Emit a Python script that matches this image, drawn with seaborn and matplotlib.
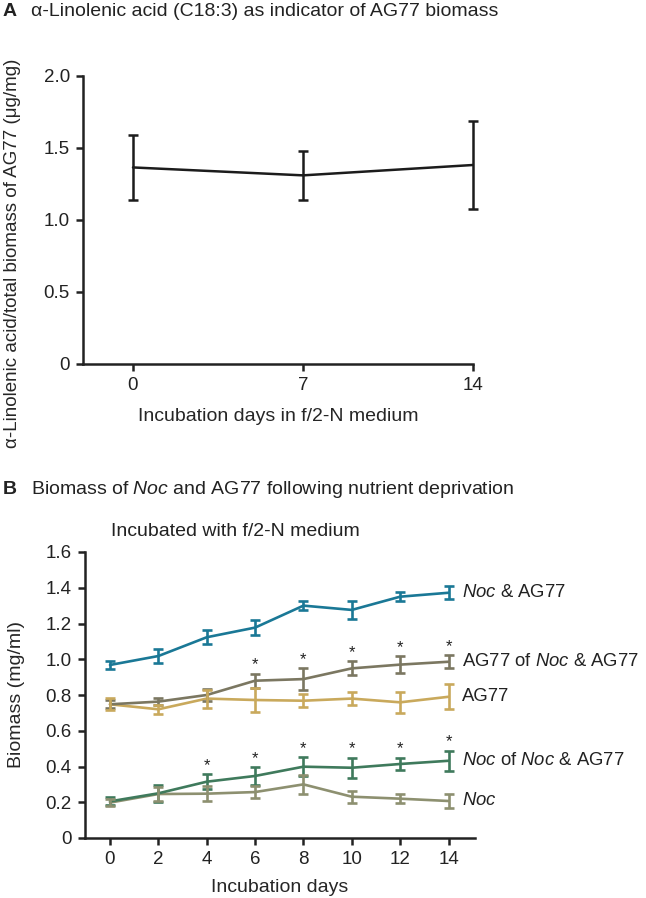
import numpy as np
import pandas as pd
import matplotlib
matplotlib.use("Agg")
import matplotlib.pyplot as plt
import seaborn as sns

# Panel A: alpha-linolenic acid / AG77 biomass
days_a = [0, 7, 14]
ala_mean = [1.365, 1.31, 1.382]
ala_err = [0.225, 0.168, 0.305]

# Panel B: biomass (mg/ml) over incubation days
days_b = [0, 2, 4, 6, 8, 10, 12, 14]
coculture = [0.968, 1.018, 1.123, 1.177, 1.300, 1.276, 1.350, 1.372]
coculture_err = [0.024, 0.037, 0.040, 0.040, 0.027, 0.051, 0.024, 0.036]
ag77_in_co = [0.748, 0.763, 0.800, 0.880, 0.889, 0.949, 0.970, 0.986]
ag77_in_co_err = [0.023, 0.019, 0.035, 0.040, 0.060, 0.039, 0.046, 0.035]
ag77_alone = [0.748, 0.720, 0.780, 0.772, 0.768, 0.780, 0.759, 0.790]
ag77_alone_err = [0.033, 0.025, 0.050, 0.068, 0.035, 0.037, 0.060, 0.069]
noc_in_co = [0.205, 0.250, 0.315, 0.347, 0.399, 0.393, 0.414, 0.432]
noc_in_co_err = [0.023, 0.048, 0.042, 0.048, 0.053, 0.056, 0.035, 0.056]
noc_alone = [0.198, 0.246, 0.248, 0.257, 0.300, 0.231, 0.220, 0.207]
noc_alone_err = [0.020, 0.038, 0.042, 0.033, 0.053, 0.033, 0.026, 0.040]

series_names = ["Noc & AG77", "AG77 of Noc & AG77", "AG77", "Noc of Noc & AG77", "Noc"]
series_labels = [r"$\mathit{Noc}$ & AG77", r"AG77 of $\mathit{Noc}$ & AG77", "AG77",
                 r"$\mathit{Noc}$ of $\mathit{Noc}$ & AG77", r"$\mathit{Noc}$"]
series_colors = ["#1a7896", "#7b7761", "#c9a95c", "#3f7a5c", "#8d9070"]
star_days = {"AG77 of Noc & AG77": [6, 8, 10, 12, 14],
             "Noc of Noc & AG77": [4, 6, 8, 10, 12, 14]}

sns.set_style("ticks")
plt.rcParams["font.family"] = ["Liberation Sans", "DejaVu Sans"]
plt.rcParams["mathtext.fontset"] = "custom"
plt.rcParams["mathtext.rm"] = "Liberation Sans"
plt.rcParams["mathtext.it"] = "Liberation Sans:italic"
plt.rcParams["axes.linewidth"] = 1.8
plt.rcParams["xtick.major.width"] = 1.8
plt.rcParams["ytick.major.width"] = 1.8
plt.rcParams["xtick.major.size"] = 5
plt.rcParams["ytick.major.size"] = 5
plt.rcParams["text.color"] = "#222222"
plt.rcParams["xtick.color"] = "#222222"
plt.rcParams["ytick.color"] = "#222222"
plt.rcParams["axes.edgecolor"] = "#222222"

W, H = 646, 898
FS = 14
TICK_FS = 13.5
fig = plt.figure(figsize=(W / 100, H / 100), dpi=100)

# ---------------- Panel A ----------------
axA = fig.add_axes([83 / W, 1 - 364 / H, (473 - 83) / W, (364 - 76) / H])
df_a = pd.DataFrame({"day": days_a, "ala": ala_mean})
sns.lineplot(data=df_a, x="day", y="ala", color="#1c1c1c", lw=1.8, ax=axA)
eb = axA.errorbar(days_a, ala_mean, yerr=ala_err, fmt="none", ecolor="#1c1c1c",
                  elinewidth=1.8, capsize=3.5, capthick=1.8)
for art in eb.get_children():
    art.set_clip_on(False)
axA.set_xlim(-50 / 24.29, 14)
axA.set_ylim(0, 2.0)
axA.set_xticks(days_a)
axA.set_yticks([0, 0.5, 1.0, 1.5, 2.0])
axA.set_yticklabels(["0", "0.5", "1.0", "1.5", "2.0"])
axA.tick_params(labelsize=TICK_FS, pad=4.5)
axA.set_xlabel("Incubation days in f/2-N medium", fontsize=FS, labelpad=10)
axA.set_ylabel("α-Linolenic acid/total biomass of AG77 (μg/mg)", fontsize=13.5)
axA.yaxis.set_label_coords((21 - 83) / 390, (364 - 253) / 288)
sns.despine(ax=axA)

fig.text(3 / W, 1 - 11 / H, "A", fontsize=FS, fontweight="bold", va="center", ha="left")
fig.text(31 / W, 1 - 11 / H, "α-Linolenic acid (C18:3) as indicator of AG77 biomass",
         fontsize=FS, va="center", ha="left")

# ---------------- Panel B ----------------
axB = fig.add_axes([85 / W, 1 - 838 / H, (475 - 85) / W, (838 - 552) / H])
values = [coculture, ag77_in_co, ag77_alone, noc_in_co, noc_alone]
errors = [coculture_err, ag77_in_co_err, ag77_alone_err, noc_in_co_err, noc_alone_err]
rows = []
for name, vals in zip(series_names, values):
    for d, v in zip(days_b, vals):
        rows.append({"day": d, "biomass": v, "series": name})
df_b = pd.DataFrame(rows)
palette = dict(zip(series_names, series_colors))
sns.lineplot(data=df_b, x="day", y="biomass", hue="series", hue_order=series_names[::-1],
             palette=palette, lw=1.9, legend=False, ax=axB)
for name, vals, errs, col, lab in zip(series_names, values, errors, series_colors, series_labels):
    axB.errorbar(days_b, vals, yerr=errs, fmt="none", ecolor=col, elinewidth=1.9,
                 capsize=3.5, capthick=1.9)
    axB.text(14.55, vals[-1], lab, fontsize=13.3, va="center", ha="left", clip_on=False)
    for d in star_days.get(name, []):
        i = days_b.index(d)
        axB.annotate("*", (d, vals[i] + errs[i]), xytext=(0, 1), textcoords="offset points",
                     ha="center", va="bottom", fontsize=12)

axB.set_xlim(-25 / 24.18, 14 + 26.5 / 24.18)
axB.set_ylim(0, 1.6)
axB.set_xticks(days_b)
axB.set_yticks(np.arange(0, 1.61, 0.2))
axB.set_yticklabels(["0", "0.2", "0.4", "0.6", "0.8", "1.0", "1.2", "1.4", "1.6"])
axB.tick_params(labelsize=TICK_FS, pad=4.5)
axB.set_xlabel("Incubation days", fontsize=FS, labelpad=8)
axB.set_ylabel("Biomass (mg/ml)", fontsize=FS)
axB.yaxis.set_label_coords((25 - 85) / 390, 0.5)
sns.despine(ax=axB)

fig.text(3 / W, 1 - 489 / H, "B", fontsize=FS, fontweight="bold", va="center", ha="left")
fig.text(31 / W, 1 - 489 / H, r"Biomass of $\mathit{Noc}$ and AG77 following nutrient deprivation",
         fontsize=FS, va="center", ha="left")
fig.text(235 / W, 1 - 531 / H, "Incubated with f/2-N medium", fontsize=FS, va="center", ha="center")

fig.savefig("out.png", dpi=100)
